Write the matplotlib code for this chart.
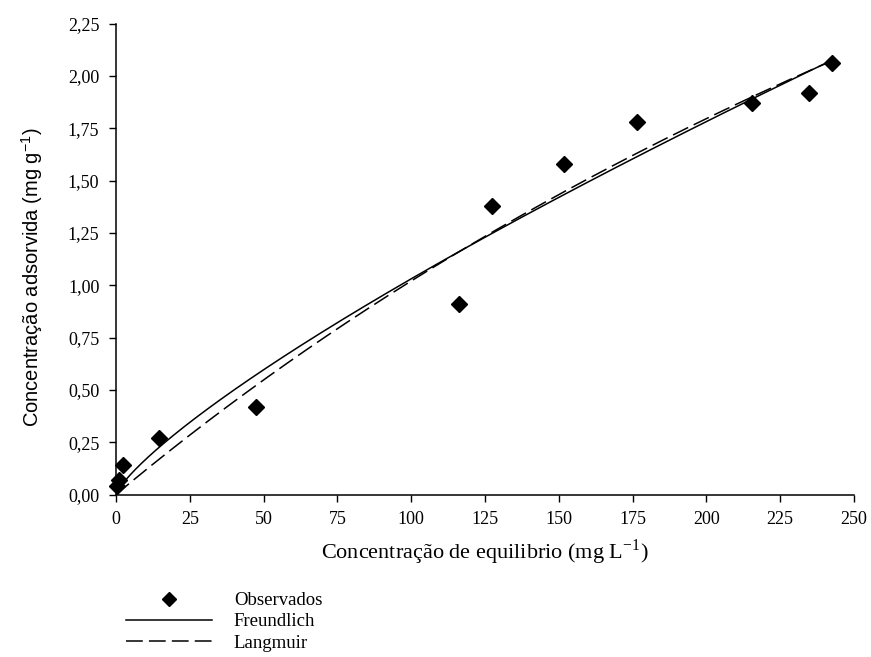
import numpy as np
import matplotlib
matplotlib.use("Agg")
import matplotlib.pyplot as plt
from matplotlib.ticker import FuncFormatter

plt.rcParams['font.family'] = ['Liberation Serif', 'DejaVu Serif']
plt.rcParams['mathtext.fontset'] = 'stix'

# Observed data (equilibrium concentration mg/L, adsorbed mg/g)
ce_obs = [0.3, 1.0, 2.5, 14.6, 47.4, 116.2, 127.3, 151.7, 176.6, 215.6, 234.7, 242.6]
qe_obs = [0.04, 0.07, 0.14, 0.27, 0.42, 0.91, 1.38, 1.58, 1.78, 1.87, 1.92, 2.06]

# Fitted model parameters
freundlich_K = 0.0271
freundlich_n = 0.79
langmuir_Qm = 7.5
langmuir_KL = 0.001574

x_ticks = [0, 25, 50, 75, 100, 125, 150, 175, 200, 225, 250]
y_ticks = [0.0, 0.25, 0.5, 0.75, 1.0, 1.25, 1.5, 1.75, 2.0, 2.25]

fig = plt.figure(figsize=(8.71, 6.57), dpi=100)
ax = fig.add_axes([116/871, 1-494.5/657, (854-116)/871, (494.5-23.5)/657])

xf = np.linspace(0, max(ce_obs), 400)
yf = freundlich_K * xf ** freundlich_n
yl = langmuir_Qm * langmuir_KL * xf / (1 + langmuir_KL * xf)

h1, = ax.plot(ce_obs, qe_obs, linestyle='none', marker='D', markersize=8,
              color='black', label='Observados', clip_on=False, zorder=3)
h2, = ax.plot(xf, yf, color='black', linewidth=1.1, label='Freundlich')
h3, = ax.plot(xf, yl, color='black', linewidth=1.1, linestyle=(0, (11, 4)),
              label='Langmuir')

ax.set_xlim(0, 250)
ax.set_ylim(0, 2.25)
ax.set_xticks(x_ticks)
ax.set_yticks(y_ticks)
ax.yaxis.set_major_formatter(FuncFormatter(lambda v, p: f"{v:.2f}".replace('.', ',')))
ax.xaxis.set_major_formatter(FuncFormatter(lambda v, p: f"{int(v)}"))
for s in ['top', 'right']:
    ax.spines[s].set_visible(False)
for s in ['left', 'bottom']:
    ax.spines[s].set_linewidth(1.1)
ax.tick_params(direction='out', length=5, width=1, labelsize=13, pad=7)

ax.set_xlabel(r'Concentração de equilibrio (mg L$^{\mathregular{-1}}$)', fontsize=16, labelpad=7)
ax.set_ylabel(r'Concentração adsorvida (mg g$^{\mathregular{-1}}$)', fontsize=14.5,
              family=['Liberation Sans', 'DejaVu Sans'])
ax.yaxis.set_label_coords((45-116)/738, (494.5-277)/471)

fig.legend(handles=[h1, h2, h3], loc='upper left',
           bbox_to_anchor=(126/871, 1-592/657), frameon=False,
           fontsize=13.5, handlelength=4.6, handletextpad=1.15,
           labelspacing=0.22, borderpad=0, borderaxespad=0, markerscale=0.85)

fig.savefig('out.png', dpi=100)
